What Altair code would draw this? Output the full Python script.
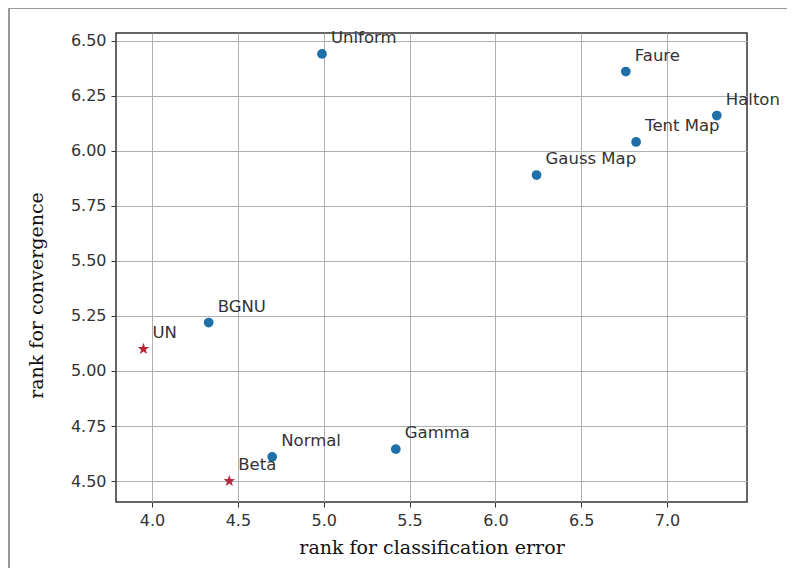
import altair as alt
import pandas as pd

names = ["Uniform", "Faure", "Halton", "Tent Map", "Gauss Map", "BGNU", "Normal", "Gamma", "UN", "Beta"]
x_err = [4.99, 6.76, 7.29, 6.82, 6.24, 4.33, 4.70, 5.42, 3.95, 4.45]
y_conv = [6.44, 6.36, 6.16, 6.04, 5.89, 5.22, 4.61, 4.645, 5.10, 4.50]
kind = ["base"] * 8 + ["proposed"] * 2

df = pd.DataFrame({"name": names, "x": x_err, "y": y_conv, "kind": kind})

xs = alt.Scale(domain=[3.79, 7.466], nice=False, zero=False)
ys = alt.Scale(domain=[4.405, 6.535], nice=False, zero=False)

xax = alt.Axis(values=[4.0, 4.5, 5.0, 5.5, 6.0, 6.5, 7.0], format=".1f",
               title="rank for classification error", titleFont="DejaVu Serif",
               titleFontSize=19, titleFontWeight="normal", titleColor="#111",
               titlePadding=10)
yax = alt.Axis(values=[4.5, 4.75, 5.0, 5.25, 5.5, 5.75, 6.0, 6.25, 6.5], format=".2f",
               title="rank for convergence", titleFont="DejaVu Serif",
               titleFontSize=19, titleFontWeight="normal", titleColor="#111",
               titleX=-80, titleY=262, titleAlign="center", titleBaseline="middle")

base = alt.Chart(df)

pts = base.transform_filter(alt.datum.kind == "base").mark_circle(
    size=95, color="#1f6fa8", opacity=1).encode(
    x=alt.X("x:Q", scale=xs, axis=xax),
    y=alt.Y("y:Q", scale=ys, axis=yax),
)

stars = base.transform_filter(alt.datum.kind == "proposed").mark_point(
    shape="M0,-1L0.235,-0.324L0.951,-0.309L0.38,0.124L0.588,0.809L0,0.4L-0.588,0.809L-0.38,0.124L-0.951,-0.309L-0.235,-0.324Z",
    size=150, filled=True, color="#b5283a", opacity=1).encode(
    x=alt.X("x:Q", scale=xs),
    y=alt.Y("y:Q", scale=ys),
)

labels = base.mark_text(align="left", baseline="alphabetic", dx=9, dy=-11,
                        font="DejaVu Sans", fontSize=16.5, color="#333").encode(
    x=alt.X("x:Q", scale=xs),
    y=alt.Y("y:Q", scale=ys),
    text="name:N",
)

border_top = base.mark_rule(color="#9a9a9a", strokeWidth=1.5).encode(
    x=alt.value(-108), x2=alt.value(671), y=alt.value(-25))
border_left = base.mark_rule(color="#9a9a9a", strokeWidth=1.5).encode(
    x=alt.value(-107), y=alt.value(-25), y2=alt.value(535))

chart = alt.layer(border_top, border_left, pts, stars, labels).properties(
    width=631, height=469,
    autosize=alt.AutoSizeParams(type="none"),
    padding={"left": 108, "top": 25, "right": 40, "bottom": 66},
).configure_view(
    stroke="#333", strokeWidth=1.5
).configure_axis(
    grid=True, gridColor="#b0b0b0", gridWidth=1,
    domain=False, tickColor="#333", tickSize=5, tickWidth=1,
    labelFont="DejaVu Sans", labelFontSize=16, labelColor="#333", labelPadding=5,
)

chart.save("out.html", embed_options={"renderer": "svg", "actions": False})
